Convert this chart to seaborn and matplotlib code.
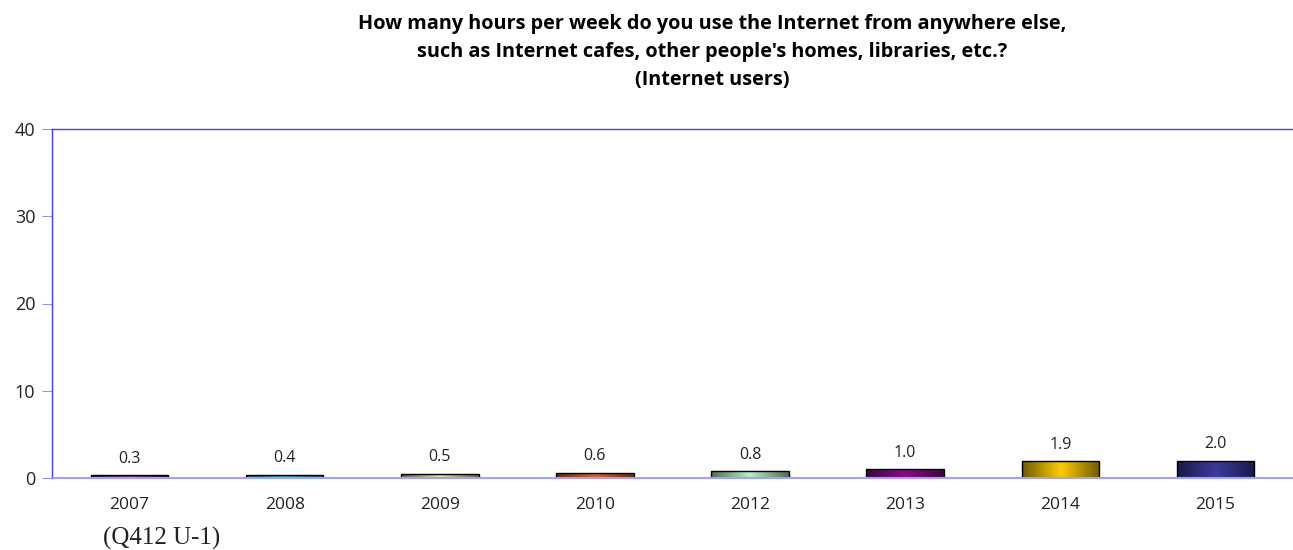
import numpy as np
import pandas as pd
import matplotlib
matplotlib.use("Agg")
import matplotlib.pyplot as plt
from matplotlib.colors import LinearSegmentedColormap
import seaborn as sns

# Data
years = ["2007", "2008", "2009", "2010", "2012", "2013", "2014", "2015"]
hours = [0.3, 0.4, 0.5, 0.6, 0.8, 1.0, 1.9, 2.0]
bar_colors = ["#7a2a8a", "#2aa8c8", "#e0e090", "#e06020",
              "#b8f0c0", "#8a0a8a", "#ffcc00", "#3a3aa0"]

df = pd.DataFrame({"year": years, "hours": hours})

sns.set_style("white")
plt.rcParams["font.family"] = ["Open Sans", "DejaVu Sans"]

fig = plt.figure(figsize=(12.93, 5.5), dpi=100)
ax = fig.add_axes([52 / 1293, 1 - 478 / 550, 1 - 52 / 1293, (478 - 129) / 550])

sns.barplot(data=df, x="year", y="hours", hue="year", palette=bar_colors,
            legend=False, width=0.5, edgecolor="black", linewidth=1.0, ax=ax)

# shaded look: dark edges, bright centre, clipped to each bar
for patch, c in zip(ax.patches, bar_colors):
    x0, y0 = patch.get_x(), patch.get_y()
    w, h = patch.get_width(), patch.get_height()
    rgb = np.array(matplotlib.colors.to_rgb(c))
    cmap = LinearSegmentedColormap.from_list(
        "g", [rgb * 0.45, rgb, rgb * 0.45])
    grad = np.linspace(0, 1, 64).reshape(1, -1)
    im = ax.imshow(grad, cmap=cmap, aspect="auto",
                   extent=[x0, x0 + w, y0, y0 + h], zorder=patch.get_zorder())
    im.set_clip_path(patch)
    patch.set_facecolor("none")
    patch.set_zorder(patch.get_zorder() + 0.1)

for i, v in enumerate(hours):
    ax.annotate(f"{v:.1f}", (i, v), xytext=(0, 6), textcoords="offset points",
                ha="center", va="bottom", fontsize=11.5, color="#222222")

ax.set_xlim(-0.5, len(years) - 0.5)
ax.set_ylim(0, 40)
ax.set_yticks([0, 10, 20, 30, 40])
ax.set_xlabel("")
ax.set_ylabel("")
ax.tick_params(axis="y", left=True, length=7, color="#9090ff", labelsize=13,
               pad=5, labelcolor="#222222")
ax.tick_params(axis="x", bottom=False, labelsize=12.5, pad=10, labelcolor="#222222")

for s in ["left", "top"]:
    ax.spines[s].set_color("#4040ff")
    ax.spines[s].set_linewidth(1.0)
ax.spines["bottom"].set_color("#a0a0ff")
ax.spines["bottom"].set_linewidth(1.5)
ax.spines["right"].set_visible(False)

fig.text(712 / 1293, 1 - 52 / 550,
         "How many hours per week do you use the Internet from anywhere else,\n"
         "such as Internet cafes, other people's homes, libraries, etc.?\n"
         "(Internet users)",
         ha="center", va="center", fontsize=14.3, fontweight="bold",
         linespacing=1.55, color="black")

fig.text(103 / 1293, 1 - 538 / 550, "(Q412 U-1)", family="Liberation Serif",
         fontsize=18, ha="left", va="center", color="#222222")

fig.savefig("out.png", dpi=100)
